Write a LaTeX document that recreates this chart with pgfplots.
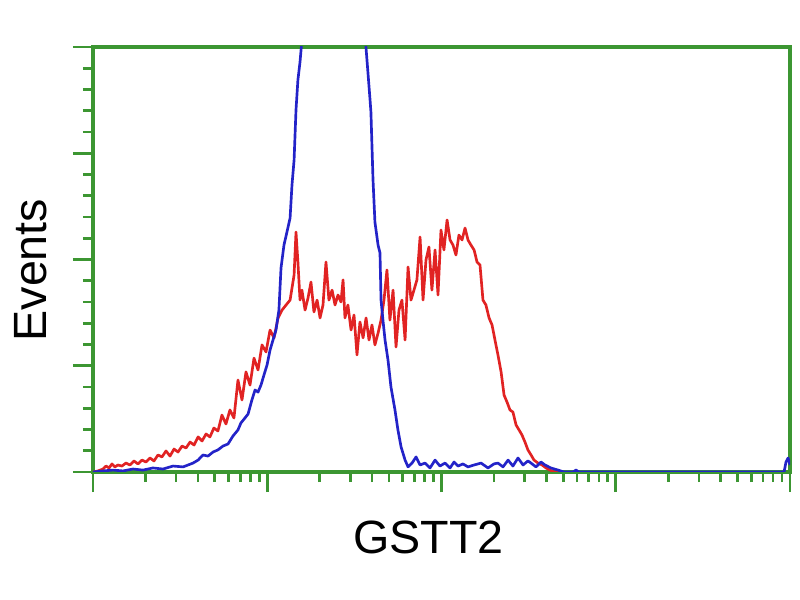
\documentclass[border=0pt]{standalone}
\usepackage{fontspec}
\setmainfont{Liberation Sans}
\usepackage{pgfplots}
\pgfplotsset{compat=1.18}
\definecolor{axgreen}{RGB}{60,150,50}
\definecolor{histred}{RGB}{225,35,35}
\definecolor{histblue}{RGB}{35,35,200}
\begin{document}
\begin{tikzpicture}
\path (0,0) rectangle (600pt,450pt);
\begin{axis}[
    at={(69.75pt,96pt)}, anchor=south west,
    width=522.75pt, height=318.75pt, scale only axis,
    xmin=0, xmax=4, ymin=0, ymax=200,
    xtick={0,1,2,3,4},
    minor xtick={0.301,0.477,0.602,0.699,0.778,0.845,0.903,0.954,
                 1.301,1.477,1.602,1.699,1.778,1.845,1.903,1.954,
                 2.301,2.477,2.602,2.699,2.778,2.845,2.903,2.954,
                 3.301,3.477,3.602,3.699,3.778,3.845,3.903,3.954},
    ytick={0,50,100,150,200}, minor y tick num=4,
    xticklabels={}, yticklabels={},
    xtick pos=lower, ytick pos=left,
    tick align=outside,
    major tick length=15pt, minor tick length=7.5pt,
    tick style={line width=2pt, color=axgreen},
    minor tick style={line width=2pt, color=axgreen},
    axis line style={line width=2.8pt, color=axgreen},
    xlabel={GSTT2}, ylabel={Events},
    label style={font=\fontsize{35}{42}\selectfont},
    xlabel style={at={(axis description cs:0.481,-0.155)}, anchor=center},
    ylabel style={at={(axis description cs:-0.090,0.475)}, anchor=center, rotate=0},
]
\addplot[histred, line width=2pt, line join=round] coordinates {
(0,0) (0.029,0.5) (0.057,1.4) (0.075,2.8) (0.092,1.9) (0.109,3.8) (0.126,2.4)
(0.143,3.3) (0.166,2.8) (0.189,4.2) (0.212,3.3) (0.235,5.2) (0.258,3.8)
(0.281,5.6) (0.304,4.7) (0.327,6.6) (0.350,5.2) (0.373,8.0) (0.396,7.1)
(0.419,9.9) (0.442,7.5) (0.465,10.8) (0.488,9.4) (0.511,12.2) (0.534,11.3)
(0.557,14.1) (0.580,12.7) (0.603,16.5) (0.626,14.6) (0.649,17.9) (0.671,16.5)
(0.694,20.7) (0.717,19.3) (0.740,26.8) (0.763,22.6) (0.786,29.2) (0.809,25.4)
(0.832,43.3) (0.855,33.9) (0.878,47.1) (0.901,40.9) (0.924,53.6) (0.947,48.0)
(0.970,59.8) (0.993,56.5) (1.016,66.8) (1.039,63.1) (1.062,72.5) (1.085,76.2)
(1.108,78.6) (1.131,80.9) (1.154,92.7) (1.165,112.9) (1.176,98.8) (1.188,80.9)
(1.199,85.6) (1.217,76.2) (1.234,81.9) (1.251,89.4) (1.268,75.3) (1.286,80.9)
(1.303,72.5) (1.320,78.6) (1.337,98.8) (1.354,80.9) (1.372,85.6) (1.389,78.6)
(1.406,83.3) (1.423,80.0) (1.435,90.4) (1.446,72.5) (1.463,78.6) (1.481,66.8)
(1.498,73.9) (1.515,55.1) (1.532,70.6) (1.550,63.1) (1.567,72.5) (1.584,62.1)
(1.601,69.2) (1.618,59.8) (1.636,65.4) (1.653,71.5) (1.670,80.9) (1.687,95.1)
(1.704,71.5) (1.722,85.6) (1.739,58.8) (1.756,76.2) (1.773,80.9) (1.791,62.1)
(1.808,96.5) (1.825,80.9) (1.842,85.6) (1.859,90.4) (1.877,110.6) (1.894,80.9)
(1.911,99.8) (1.928,105.9) (1.945,85.6) (1.963,104.5) (1.980,83.3) (1.997,113.9)
(2.014,104.5) (2.032,118.6) (2.049,109.2) (2.066,106.8) (2.083,102.1) (2.100,111.5)
(2.118,109.2) (2.135,114.8) (2.152,109.2) (2.169,106.8) (2.187,104.5) (2.204,98.8)
(2.221,97.4) (2.238,80.9) (2.255,78.6) (2.273,72.5) (2.290,69.2) (2.307,62.1)
(2.324,55.1) (2.342,47.1) (2.359,36.2) (2.376,32.9) (2.393,29.2) (2.410,28.2)
(2.428,22.1) (2.445,19.8) (2.462,17.4) (2.479,14.1) (2.496,10.4) (2.514,8.0)
(2.531,5.6) (2.554,4.2) (2.577,3.3) (2.600,1.9) (2.623,0.9) (2.646,0) (2.669,0)
};
\addplot[histblue, line width=2pt, line join=round] coordinates {
(0,0) (0.057,0.5) (0.115,0.9) (0.172,0.5) (0.230,1.4) (0.287,0.9) (0.344,1.9)
(0.402,1.4) (0.459,2.8) (0.517,2.4) (0.574,4.2) (0.603,5.6) (0.631,8.0)
(0.660,7.5) (0.689,9.4) (0.717,10.4) (0.746,12.2) (0.775,13.2) (0.803,16.9)
(0.832,19.8) (0.849,23.1) (0.872,25.4) (0.890,27.3) (0.912,33.9) (0.930,38.6)
(0.947,37.6) (0.964,40.9) (0.981,45.6) (0.999,50.4) (1.016,57.4) (1.033,62.1)
(1.050,66.8) (1.067,76.2) (1.079,96.0) (1.096,106.8) (1.113,112.9) (1.131,119.5)
(1.142,135.1) (1.154,146.8) (1.165,170.4) (1.176,184.5) (1.188,192.9) (1.199,203.3)
(1.211,215) (1.245,235) (1.291,250) (1.383,258) (1.463,248) (1.521,230) (1.555,210)
(1.567,199.5) (1.578,187.8) (1.590,175.1) (1.595,169.4) (1.607,137.4) (1.618,117.6)
(1.636,106.8) (1.647,103.1) (1.653,80.9) (1.664,71.5) (1.676,62.1) (1.693,52.7)
(1.710,40.0) (1.733,29.2) (1.750,19.8) (1.768,11.8) (1.791,5.6) (1.808,2.4)
(1.831,4.2) (1.854,7.1) (1.877,3.3) (1.905,4.2) (1.934,1.9) (1.963,5.6)
(1.991,2.8) (2.020,4.2) (2.049,1.9) (2.072,4.7) (2.095,2.8) (2.123,3.8)
(2.152,2.4) (2.187,3.3) (2.227,4.2) (2.267,1.9) (2.301,3.8) (2.324,4.2)
(2.353,2.4) (2.382,5.6) (2.410,2.8) (2.439,6.6) (2.468,3.3) (2.496,5.2)
(2.514,4.2) (2.542,2.4) (2.571,4.7) (2.594,3.3) (2.628,1.9) (2.669,0.9)
(2.703,0) (2.755,0) (2.772,0.9) (2.789,0) (3.472,0) (3.966,0) (3.977,4.7)
(3.989,6.6) (4.0,3.3)
};
\end{axis}
\end{tikzpicture}
\end{document}
